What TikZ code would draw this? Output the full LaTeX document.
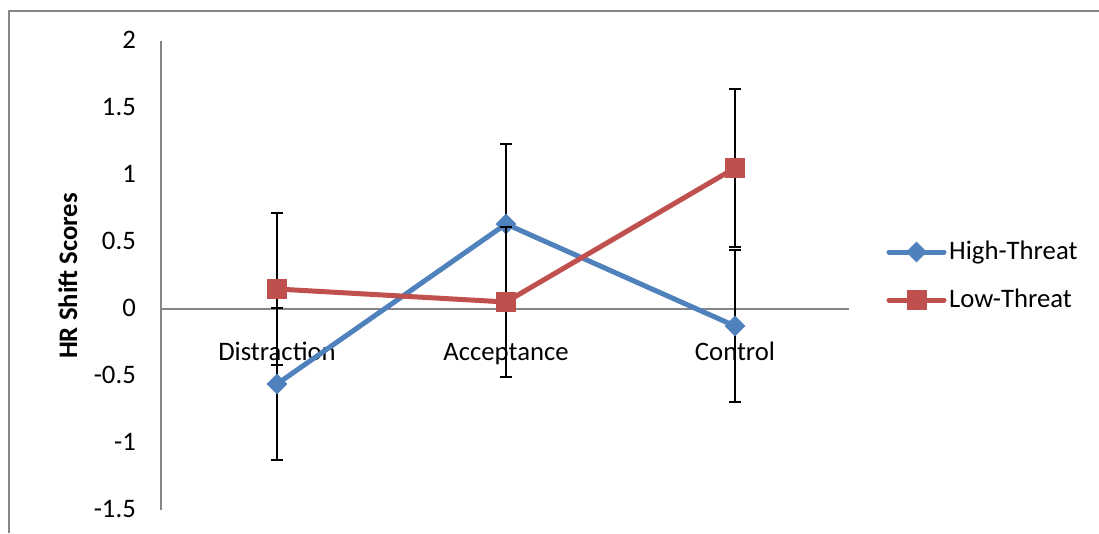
\documentclass[tikz,border=0pt]{standalone}
\usepackage{fontspec}
\setmainfont{Carlito}
\usetikzlibrary{shapes.geometric}
\definecolor{seriesblue}{HTML}{4F81BD}
\definecolor{seriesred}{HTML}{C0504D}
\definecolor{axisgray}{HTML}{868686}
\begin{document}
\begin{tikzpicture}[x=1pt,y=-1pt,
  axisline/.style={draw=axisgray,line width=1.6pt},
  chartfont/.style={font=\fontsize{26.7}{32}\selectfont},
  ticklabel/.style={chartfont,anchor=base east,inner sep=0pt},
  catlabel/.style={chartfont,anchor=base,inner sep=0pt},
  errbar/.style={draw=black,line width=1.8pt},
  hiline/.style={draw=seriesblue,line width=5pt,line join=round},
  loline/.style={draw=seriesred,line width=5pt,line join=round},
  himark/.style={diamond,fill=seriesblue,inner sep=0pt,minimum width=21pt,minimum height=21pt},
  lomark/.style={rectangle,fill=seriesred,inner sep=0pt,minimum size=20pt},
  legtext/.style={chartfont,anchor=base west,inner sep=0pt}]
\useasboundingbox (0,0) rectangle (1099,533);
\fill[white] (0,0) rectangle (1099,533);
% chart frame
\draw[draw=axisgray,line width=2pt] (1099,11) -- (9,11) -- (9,533);
% axes
\coordinate (ytop) at (161,41);
\coordinate (ybot) at (161,510);
\coordinate (xleft) at (161,309);
\coordinate (xright) at (849,309);
\draw[axisline] (ytop) -- (ybot);
\draw[axisline] (xleft) -- (xright);
% value axis labels
\node[ticklabel] (t1) at (136,48) {2};
\node[ticklabel] (t2) at (136,115) {1.5};
\node[ticklabel] (t3) at (136,182) {1};
\node[ticklabel] (t4) at (136,249) {0.5};
\node[ticklabel] (t5) at (136,316) {0};
\node[ticklabel] (t6) at (136,383) {-0.5};
\node[ticklabel] (t7) at (136,450) {-1};
\node[ticklabel] (t8) at (136,517) {-1.5};
\node[rotate=90,anchor=base,inner sep=0pt,font={\fontsize{26.7}{32}\selectfont\bfseries}] (ytitle) at (77,276) {HR Shift Scores};
% category labels
\node[catlabel] (c1) at (277,360) {Distraction};
\node[catlabel] (c2) at (506,360) {Acceptance};
\node[catlabel] (c3) at (735,360) {Control};
% High-Threat error bars
\foreach \x/\a/\b in {277/308/460, 506/144/304, 735/250/402}{
  \draw[errbar] (\x,\a) -- (\x,\b);
  \draw[errbar] (\x-6,\a) -- (\x+6,\a);
  \draw[errbar] (\x-6,\b) -- (\x+6,\b);
}
% High-Threat series
\coordinate (h1) at (277,384);
\coordinate (h2) at (506,224);
\coordinate (h3) at (735,326);
\draw[hiline] (h1) -- (h2) -- (h3);
\node[himark] (hm1) at (h1) {};
\node[himark] (hm2) at (h2) {};
\node[himark] (hm3) at (h3) {};
% Low-Threat error bars
\foreach \x/\a/\b in {277/213/365, 506/227/377, 735/89/247}{
  \draw[errbar] (\x,\a) -- (\x,\b);
  \draw[errbar] (\x-6,\a) -- (\x+6,\a);
  \draw[errbar] (\x-6,\b) -- (\x+6,\b);
}
% Low-Threat series
\coordinate (l1) at (277,289);
\coordinate (l2) at (506,302);
\coordinate (l3) at (735,168);
\draw[loline] (l1) -- (l2) -- (l3);
\node[lomark] (lm1) at (l1) {};
\node[lomark] (lm2) at (l2) {};
\node[lomark] (lm3) at (l3) {};
% legend
\coordinate (la1) at (889,252);
\coordinate (lb1) at (944,252);
\draw[hiline,line cap=round] (la1) -- (lb1);
\node[himark] (lgh) at (916.5,252) {};
\node[legtext] (lth) at (949,259) {High-Threat};
\coordinate (la2) at (889,300);
\coordinate (lb2) at (944,300);
\draw[loline,line cap=round] (la2) -- (lb2);
\node[lomark] (lgl) at (916.5,300) {};
\node[legtext] (ltl) at (949,307) {Low-Threat};
\end{tikzpicture}
\end{document}
